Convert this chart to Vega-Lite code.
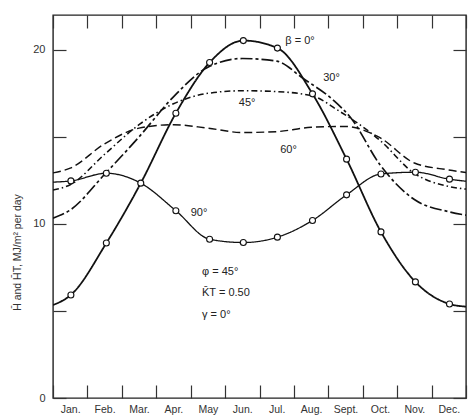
{
  "$schema": "https://vega.github.io/schema/vega-lite/v6.json",
  "autosize": {"type": "none"},
  "padding": {"left": 53, "top": 15, "right": 2, "bottom": 17},
  "width": 413,
  "height": 383,
  "config": {
    "view": {"stroke": "#222", "strokeWidth": 1.4},
    "font": "Liberation Sans"
  },
  "datasets": {
    "curves": [
      {"series": "0", "m": 0, "v": 5.34}, {"series": "0", "m": 0.52, "v": 5.92}, {"series": "0", "m": 1.55, "v": 8.9}, {"series": "0", "m": 2.55, "v": 12.34}, {"series": "0", "m": 3.57, "v": 16.36}, {"series": "0", "m": 4.55, "v": 19.27}, {"series": "0", "m": 5.53, "v": 20.53}, {"series": "0", "m": 6.52, "v": 20.1}, {"series": "0", "m": 7.54, "v": 17.47}, {"series": "0", "m": 8.53, "v": 13.72}, {"series": "0", "m": 9.53, "v": 9.54}, {"series": "0", "m": 10.53, "v": 6.67}, {"series": "0", "m": 11.52, "v": 5.4}, {"series": "0", "m": 12, "v": 5.25},
      {"series": "90", "m": 0, "v": 12.4}, {"series": "90", "m": 0.52, "v": 12.47}, {"series": "90", "m": 1.55, "v": 12.91}, {"series": "90", "m": 2.55, "v": 12.34}, {"series": "90", "m": 3.57, "v": 10.76}, {"series": "90", "m": 4.55, "v": 9.12}, {"series": "90", "m": 5.53, "v": 8.93}, {"series": "90", "m": 6.52, "v": 9.24}, {"series": "90", "m": 7.54, "v": 10.2}, {"series": "90", "m": 8.53, "v": 11.67}, {"series": "90", "m": 9.53, "v": 12.87}, {"series": "90", "m": 10.53, "v": 12.97}, {"series": "90", "m": 11.52, "v": 12.57}, {"series": "90", "m": 12, "v": 12.45},
      {"series": "30", "m": 0, "v": 10.33}, {"series": "30", "m": 0.5, "v": 10.8}, {"series": "30", "m": 1.5, "v": 12.85}, {"series": "30", "m": 2.5, "v": 15.0}, {"series": "30", "m": 3.5, "v": 17.3}, {"series": "30", "m": 4.5, "v": 19.0}, {"series": "30", "m": 5.5, "v": 19.5}, {"series": "30", "m": 6.5, "v": 19.35}, {"series": "30", "m": 7.27, "v": 18.35}, {"series": "30", "m": 8.15, "v": 17.1}, {"series": "30", "m": 8.65, "v": 16.1}, {"series": "30", "m": 9.5, "v": 13.4}, {"series": "30", "m": 10.5, "v": 11.4}, {"series": "30", "m": 11.5, "v": 10.7}, {"series": "30", "m": 12, "v": 10.5},
      {"series": "45", "m": 0, "v": 11.95}, {"series": "45", "m": 0.5, "v": 12.25}, {"series": "45", "m": 1.5, "v": 14.0}, {"series": "45", "m": 2.5, "v": 15.7}, {"series": "45", "m": 3.5, "v": 16.9}, {"series": "45", "m": 4.5, "v": 17.5}, {"series": "45", "m": 5.5, "v": 17.65}, {"series": "45", "m": 6.5, "v": 17.6}, {"series": "45", "m": 7.54, "v": 17.35}, {"series": "45", "m": 8.26, "v": 16.55}, {"series": "45", "m": 9.5, "v": 14.8}, {"series": "45", "m": 10.5, "v": 12.9}, {"series": "45", "m": 11.5, "v": 12.15}, {"series": "45", "m": 12, "v": 12.0},
      {"series": "60", "m": 0, "v": 12.93}, {"series": "60", "m": 0.5, "v": 13.2}, {"series": "60", "m": 1.5, "v": 14.6}, {"series": "60", "m": 2.5, "v": 15.5}, {"series": "60", "m": 3.5, "v": 15.7}, {"series": "60", "m": 4.5, "v": 15.5}, {"series": "60", "m": 5.5, "v": 15.25}, {"series": "60", "m": 6.5, "v": 15.3}, {"series": "60", "m": 7.5, "v": 15.55}, {"series": "60", "m": 8.5, "v": 15.6}, {"series": "60", "m": 9.5, "v": 14.95}, {"series": "60", "m": 10.5, "v": 13.5}, {"series": "60", "m": 11.5, "v": 13.1}, {"series": "60", "m": 12, "v": 12.95}
    ],
    "pts": [
      {"series": "0", "m": 0.52, "v": 5.92}, {"series": "0", "m": 1.55, "v": 8.9}, {"series": "0", "m": 2.55, "v": 12.34}, {"series": "0", "m": 3.57, "v": 16.36}, {"series": "0", "m": 4.55, "v": 19.27}, {"series": "0", "m": 5.53, "v": 20.53}, {"series": "0", "m": 6.52, "v": 20.1}, {"series": "0", "m": 7.54, "v": 17.47}, {"series": "0", "m": 8.53, "v": 13.72}, {"series": "0", "m": 9.53, "v": 9.54}, {"series": "0", "m": 10.53, "v": 6.67}, {"series": "0", "m": 11.52, "v": 5.4},
      {"series": "90", "m": 0.52, "v": 12.47}, {"series": "90", "m": 1.55, "v": 12.91}, {"series": "90", "m": 3.57, "v": 10.76}, {"series": "90", "m": 4.55, "v": 9.12}, {"series": "90", "m": 5.53, "v": 8.93}, {"series": "90", "m": 6.52, "v": 9.24}, {"series": "90", "m": 7.54, "v": 10.2}, {"series": "90", "m": 8.53, "v": 11.67}, {"series": "90", "m": 9.53, "v": 12.87}, {"series": "90", "m": 10.53, "v": 12.97}, {"series": "90", "m": 11.52, "v": 12.57}
    ],
    "labels": [
      {"m": 6.75, "v": 20.5, "text": "β = 0°"},
      {"m": 7.85, "v": 18.4, "text": "30°"},
      {"m": 5.4, "v": 16.95, "text": "45°"},
      {"m": 6.6, "v": 14.25, "text": "60°"},
      {"m": 4.0, "v": 10.63, "text": "90°"},
      {"m": 4.33, "v": 7.24, "text": "φ = 45°"},
      {"m": 4.33, "v": 6.03, "text": "K̄T = 0.50"},
      {"m": 4.33, "v": 4.77, "text": "γ = 0°"}
    ]
  },
  "resolve": {"axis": {"x": "independent", "y": "independent"}},
  "layer": [
    {
      "data": {"name": "curves"},
      "mark": {"type": "line", "interpolate": "monotone", "color": "#111", "clip": true},
      "encoding": {
        "x": {"field": "m", "type": "quantitative", "scale": {"domain": [0, 12], "nice": false},
          "axis": {"orient": "bottom", "values": [0,1,2,3,4,5,6,7,8,9,10,11,12], "tickSize": -13, "tickColor": "#333", "tickWidth": 1.2, "domain": false, "grid": false, "title": null,
            "labelExpr": "['Jan.','Feb.','Mar.','Apr.','May','Jun.','Jul.','Aug.','Sept.','Oct.','Nov.','Dec.'][datum.value] || ''",
            "labelOffset": 17.2, "labelPadding": 19, "labelFlush": false, "labelOverlap": false, "labelAlign": "center", "labelFontSize": 10.5, "labelColor": "#333", "labelFont": "Liberation Sans"}},
        "y": {"field": "v", "type": "quantitative", "scale": {"domain": [0, 22], "nice": false},
          "axis": {"orient": "left", "values": [0, 5, 10, 15, 20], "tickSize": -13, "tickColor": "#333", "tickWidth": 1.2, "domain": false, "grid": false,
            "labelExpr": "datum.value % 10 === 0 ? datum.label : ''", "labelPadding": 21, "labelFontSize": 11, "labelColor": "#333", "labelFont": "Liberation Sans",
            "title": "H̄ and H̄T, MJ/m² per day", "titleFontSize": 10.5, "titleFontWeight": "normal", "titleColor": "#333", "titleFont": "Liberation Sans",
            "titleX": -36, "titleY": 237, "titleAngle": 270, "titleAlign": "center", "titleBaseline": "middle"}},
        "strokeDash": {"field": "series", "type": "nominal", "legend": null,
          "scale": {"domain": ["0", "30", "45", "60", "90"], "range": [[1, 0], [12, 3, 3, 3], [6, 3, 1.5, 3], [8, 4], [1, 0]]}},
        "strokeWidth": {"field": "series", "type": "nominal", "legend": null,
          "scale": {"domain": ["0", "30", "45", "60", "90"], "range": [1.8, 1.3, 1.3, 1.3, 1.8]}}
      }
    },
    {
      "data": {"name": "pts"},
      "mark": {"type": "point", "shape": "circle", "filled": true, "fill": "white", "stroke": "#111", "strokeWidth": 1.1, "size": 36, "opacity": 1},
      "encoding": {
        "x": {"field": "m", "type": "quantitative",
          "axis": {"orient": "top", "values": [0,1,2,3,4,5,6,7,8,9,10,11,12], "tickSize": -13, "tickColor": "#333", "tickWidth": 1.2, "domain": false, "grid": false, "labels": false, "title": null}},
        "y": {"field": "v", "type": "quantitative",
          "axis": {"orient": "right", "values": [0, 5, 10, 15, 20], "tickSize": -13, "tickColor": "#333", "tickWidth": 1.2, "domain": false, "grid": false, "labels": false, "title": null}}
      }
    },
    {
      "data": {"name": "labels"},
      "mark": {"type": "text", "fontSize": 11, "color": "#222", "baseline": "middle", "align": "left", "font": "Liberation Sans"},
      "encoding": {
        "x": {"field": "m", "type": "quantitative", "axis": null},
        "y": {"field": "v", "type": "quantitative", "axis": null},
        "text": {"field": "text"}
      }
    }
  ]
}
